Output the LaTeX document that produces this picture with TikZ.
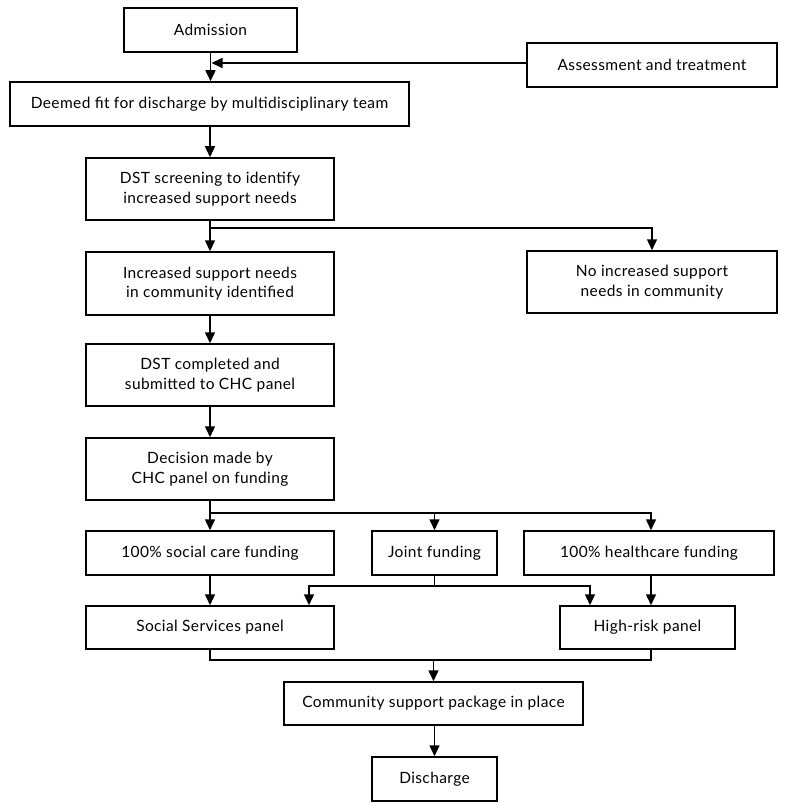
\documentclass[tikz,border=0pt]{standalone}
\usepackage{fontspec}
\setmainfont[LetterSpace=2.5]{Lato}
\usetikzlibrary{arrows.meta}
\tikzset{
  box/.style={draw, line width=1.5pt, align=center, inner sep=0pt,
    font=\fontsize{15.5}{19.5}\selectfont},
}
\begin{document}
\begin{tikzpicture}[x=1pt, y=-1pt, >={Triangle[width=10pt,length=11pt]}, line width=1.5pt]
  \useasboundingbox (0,0) rectangle (792,805);
  % top part
  \node[box, minimum width=173pt, minimum height=44pt] (adm) at (210.5,30) {Admission};
  \node[box, minimum width=250pt, minimum height=44pt] (assess) at (652,65) {Assessment and treatment};
  \node[box, minimum width=399pt, minimum height=44pt] (fit) at (209.5,104) {Deemed fit for discharge by multidisciplinary team};
  \node[box, minimum width=248pt, minimum height=62pt] (dst) at (210,189) {DST screening to identify\\increased support needs};
  \node[box, minimum width=248pt, minimum height=63pt] (inc) at (210,283.5) {Increased support needs\\in community identified};
  \node[box, minimum width=250pt, minimum height=62pt] (noinc) at (652,282) {No increased support\\needs in community};
  \node[box, minimum width=248pt, minimum height=62pt] (done) at (210,375) {DST completed and\\submitted to CHC panel};
  \node[box, minimum width=248pt, minimum height=62pt] (dec) at (210,469) {Decision made by\\CHC panel on funding};
  % funding
  \node[box, minimum width=248pt, minimum height=44pt] (social) at (210,553) {100\% social care funding};
  \node[box, minimum width=125pt, minimum height=44pt] (joint) at (434.5,553) {Joint funding};
  \node[box, minimum width=250pt, minimum height=44pt] (health) at (649,553) {100\% healthcare funding};
  % panels
  \node[box, minimum width=248pt, minimum height=43pt] (ssp) at (210,627.5) {Social Services panel};
  \node[box, minimum width=175pt, minimum height=43pt] (hrp) at (647.5,627.5) {High-risk panel};
  \node[box, minimum width=299pt, minimum height=43pt] (comm) at (433.5,703.5) {Community support package in place};
  \node[box, minimum width=125pt, minimum height=44pt] (dis) at (434.5,779) {Discharge};

  % arrows
  \draw[->] (adm.south) -- (adm.south |- fit.north);
  \draw[->] (assess.west |- 0,63) -- ([xshift=1pt]adm.south |- 0,63);
  \draw[->] (fit.south -| dst.north) -- (dst.north);
  \draw[->] (dst.south) -- (inc.north);
  \path (dst.south) ++(0,7) coordinate (dsb);
  \draw[->] (dsb) -| (noinc.north);
  \draw[->] (inc.south) -- (done.north);
  \draw[->] (done.south) -- (dec.north);
  % branching to funding
  \path (dec.south) ++(0,12) coordinate (decb);
  \draw[->] (dec.south) -- (social.north);
  \draw[->] (decb) -| (joint.north);
  \draw[->] (decb) -| ([xshift=2pt]health.north);
  \draw[->] (social.south) -- (ssp.north);
  \draw[->] ([xshift=2pt]health.south) -- ([xshift=2pt]health.south |- hrp.north);
  \path (joint.south) ++(0,10) coordinate (jb);
  \draw[->] (joint.south) -- (jb) -| ([xshift=99pt]ssp.north);
  \draw[->] (jb) -| ([xshift=-57.5pt]hrp.north);
  % merge
  \path (ssp.south) ++(0,10) coordinate (sb);
  \draw (ssp.south) -- (sb) -| ([xshift=3.5pt]hrp.south);
  \draw[->] (comm.north |- sb) -- (comm.north);
  \draw[->] (comm.south) -- (comm.south -| dis.north) -- (dis.north);
\end{tikzpicture}
\end{document}
